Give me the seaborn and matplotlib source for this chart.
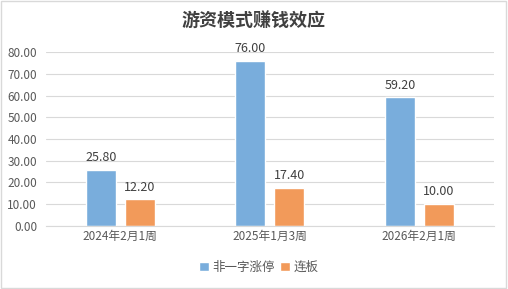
import matplotlib
matplotlib.use("Agg")
import matplotlib.pyplot as plt
import seaborn as sns
import pandas as pd

categories = ["2024年2月1周", "2025年1月3周", "2026年2月1周"]
series_names = ["非一字涨停", "连板"]
s1 = [25.80, 76.00, 59.20]
s2 = [12.20, 17.40, 10.00]
colors = ["#79ADDC", "#F29A5A"]
yticks = [0, 10, 20, 30, 40, 50, 60, 70, 80]

sns.set_theme(style="white")
plt.rcParams['font.family'] = ['Noto Sans CJK SC', 'DejaVu Sans']

df = pd.DataFrame({
    "cat": categories * 2,
    "series": [series_names[0]] * 3 + [series_names[1]] * 3,
    "val": s1 + s2,
})

fig = plt.figure(figsize=(5.08, 2.89), dpi=100)
ax = fig.add_axes([0.0896, 0.2197, 0.8828, 0.599])
sns.barplot(data=df, x="cat", y="val", hue="series", palette=colors,
            width=0.52, gap=0.23, ax=ax, saturation=1, legend=True)

ax.set_ylim(0, 80)
ax.set_xlim(-0.5, 2.5)
ax.set_yticks(yticks)
ax.set_yticklabels([f"{v:.2f}" for v in yticks], fontsize=8.5, color="#595959")
ax.tick_params(axis="x", labelsize=8.5, colors="#595959", length=0, pad=3)
ax.tick_params(axis="y", length=0, pad=6)
ax.set_xlabel("")
ax.set_ylabel("")
ax.yaxis.grid(True, color="#D9D9D9", linewidth=0.8)
ax.set_axisbelow(True)
for s in ["top", "right", "left"]:
    ax.spines[s].set_visible(False)
ax.spines["bottom"].set_color("#D9D9D9")
ax.spines["bottom"].set_linewidth(0.8)

for cont in ax.containers:
    ax.bar_label(cont, fmt="%.2f", fontsize=9, color="#404040", padding=4)

leg = ax.legend(loc="upper center", bbox_to_anchor=(0.475, -0.14), ncol=2,
                frameon=False, fontsize=9, handlelength=0.8, handleheight=0.8,
                handletextpad=0.3, columnspacing=0.4, labelcolor="#595959")

fig.text(0.5, 0.925, "游资模式赚钱效应", ha="center", va="center",
         fontsize=13, fontweight="bold", color="#404040")

border = plt.Rectangle((0.002, 0.003), 0.995, 0.994, transform=fig.transFigure,
                       fill=False, edgecolor="#D9D9D9", linewidth=1)
fig.patches.append(border)

fig.savefig("out.png", dpi=100, facecolor="white")
